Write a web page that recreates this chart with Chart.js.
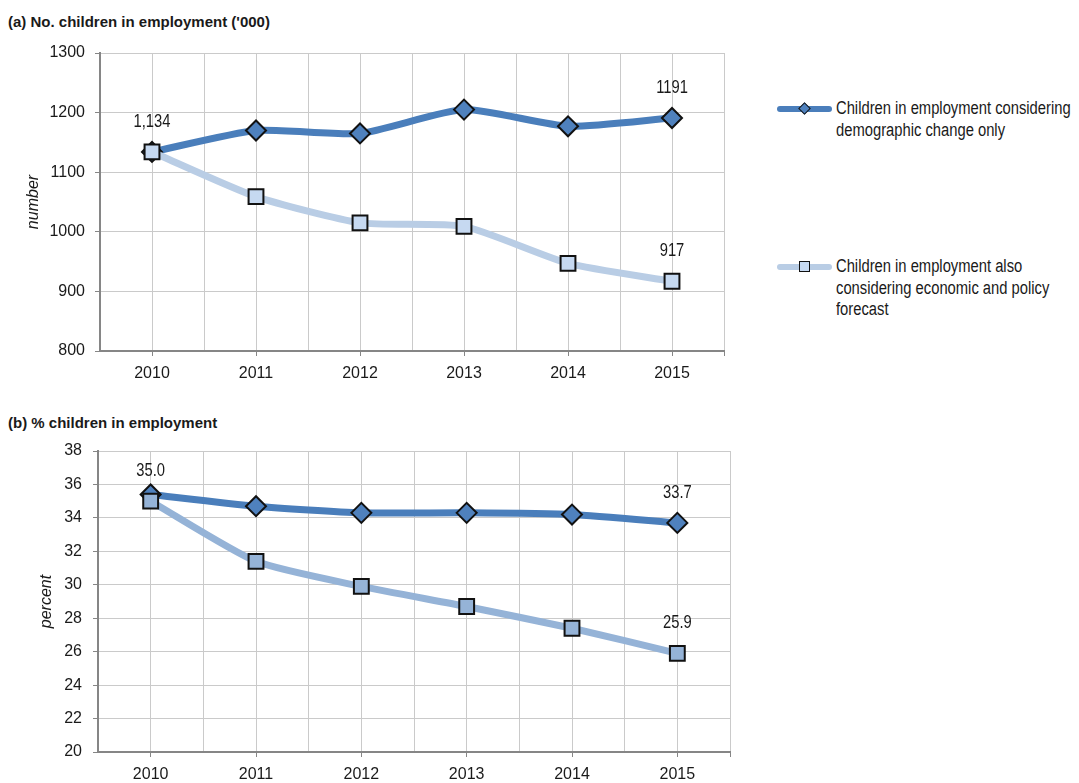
<!DOCTYPE html>
<html>
<head>
<meta charset="utf-8">
<script src="https://cdn.jsdelivr.net/npm/chart.js@4.4.1/dist/chart.umd.min.js"></script>
<style>
  body { margin: 0; background: #fff; width: 1079px; height: 783px; position: relative; overflow: hidden;
         font-family: "Liberation Sans", Arial, sans-serif; color: #1a1a1a; }
  .ttl { position: absolute; left: 8px; font-weight: bold; font-size: 15px; white-space: nowrap; }
  .box { position: absolute; left: 0; }
  .leg { position: absolute; left: 777px; font-size: 18px; line-height: 21.5px; }
  .leg .sw { position: absolute; left: 0; top: 8px; width: 55px; height: 6px; border-radius: 3px; }
  .leg .mk { position: absolute; box-sizing: border-box; border: 1.5px solid #111; }
  /* no narrow face installed: squeeze the regular one */
  .leg .txt { position: absolute; left: 59px; top: 0; white-space: nowrap; transform: scaleX(0.82); transform-origin: 0 0; }
</style>
</head>
<body>
<div class="ttl" style="top:13px">(a) No. children in employment ('000)</div>
<div class="box" style="top:40px"><canvas id="countChart" width="740" height="346"></canvas></div>

<div class="leg" style="top:98px">
  <div class="sw" style="background:#4A7EBB"></div>
  <div class="mk" style="left:23px;top:6px;width:9px;height:9px;background:#4F81BD;transform:rotate(45deg)"></div>
  <div class="txt">Children in employment considering<br>demographic change only</div>
</div>
<div class="leg" style="top:256px">
  <div class="sw" style="background:#B9CDE5"></div>
  <div class="mk" style="left:22px;top:5px;width:11px;height:11px;background:#C6D9F1"></div>
  <div class="txt">Children in employment also<br>considering economic and policy<br>forecast</div>
</div>

<div class="ttl" style="top:414px">(b) % children in employment</div>
<div class="box" style="top:435px"><canvas id="pctChart" width="746" height="348"></canvas></div>

<script>
const years = [2010, 2011, 2012, 2013, 2014, 2015];

// (a) number of children in employment, thousands
const countDemographic = [1134, 1170, 1165, 1205, 1177, 1191];
const countForecast = [1134, 1059, 1015, 1009, 947, 917];

// (b) share of children in employment, percent
const pctDemographic = [35.4, 34.7, 34.3, 34.3, 34.2, 33.7];
const pctForecast = [35.0, 31.4, 29.9, 28.7, 27.4, 25.9];

// value labels: [dataset index, point index]
const countLabelPoints = [[1, 0], [0, 5], [1, 5]];
const pctLabelPoints = [[1, 0], [0, 5], [1, 5]];

const FONT = '"Liberation Sans", Arial, sans-serif';
Chart.defaults.font.family = FONT;
Chart.defaults.font.size = 16;
Chart.defaults.color = '#1a1a1a';

const GRID = '#CACACA';
const AXIS = '#868686';

const pointValues = {
  id: 'pointValues',
  afterDatasetsDraw(chart, args, opts) {
    const ctx = chart.ctx;
    opts.points.forEach(([ds, i]) => {
      const pt = chart.getDatasetMeta(ds).data[i];
      const v = chart.data.datasets[ds].data[i].y;
      ctx.save();
      ctx.translate(pt.x, pt.y - 30);
      ctx.scale(0.82, 1);
      ctx.font = '18px ' + FONT;
      ctx.fillStyle = '#1a1a1a';
      ctx.textAlign = 'center';
      ctx.textBaseline = 'middle';
      ctx.fillText(opts.format(v, i), 0, 0);
      ctx.restore();
    });
  }
};

function series(vals) {
  return years.map((y, i) => ({ x: y, y: vals[i] }));
}

function makeChart(id, cfg) {
  return new Chart(document.getElementById(id), {
    type: 'line',
    data: {
      datasets: [
        { label: 'Children in employment considering demographic change only', data: series(cfg.demo),
          borderColor: '#4A7EBB', borderWidth: 7, tension: 0.2, order: 1,
          pointStyle: 'rectRot', pointRadius: 10, pointHoverRadius: 10,
          pointBackgroundColor: '#4F81BD', pointBorderColor: '#111', pointBorderWidth: 2 },
        { label: 'Children in employment also considering economic and policy forecast', data: series(cfg.fore),
          borderColor: cfg.foreLine, borderWidth: 7, tension: 0.2, order: 0,
          pointStyle: 'rect', pointRadius: 10.5, pointHoverRadius: 10.5,
          pointBackgroundColor: cfg.foreFill, pointBorderColor: '#111', pointBorderWidth: 2 }
      ]
    },
    options: {
      responsive: false, animation: false,
      layout: { padding: { top: cfg.padTop, right: 16, left: 0, bottom: 0 } },
      plugins: {
        legend: { display: false }, tooltip: { enabled: false },
        pointValues: { points: cfg.labelPoints, format: cfg.format }
      },
      scales: {
        x: {
          type: 'linear', min: 2009.5, max: 2015.5,
          afterFit: s => { s.height = cfg.xHeight; s.paddingLeft = 0; s.paddingRight = 0; },
          ticks: { stepSize: 0.5, autoSkip: false, maxRotation: 0, padding: 8,
                   callback: v => Number.isInteger(v) ? String(v) : '' },
          grid: { color: GRID, lineWidth: 1, borderDash: [3, 2], tickLength: 5, tickBorderDash: [],
                  tickColor: c => (Number.isInteger(c.tick.value) || c.tick.value === 2015.5) ? AXIS : 'rgba(0,0,0,0)' },
          border: { display: true, color: AXIS, width: 2 }
        },
        y: {
          min: cfg.yMin, max: cfg.yMax,
          afterFit: s => { s.width = cfg.yWidth; s.paddingTop = 0; s.paddingBottom = 0; },
          ticks: { stepSize: cfg.yStep, padding: cfg.yPad, callback: v => String(v) },
          grid: { color: GRID, lineWidth: 1, borderDash: [3, 2], tickLength: 5, tickBorderDash: [], tickColor: AXIS },
          border: { display: true, color: AXIS, width: 2 },
          title: { display: true, text: cfg.yTitle, font: { size: 16, style: 'italic' }, padding: { top: cfg.titlePad } }
        }
      }
    },
    plugins: [pointValues]
  });
}

makeChart('countChart', {
  demo: countDemographic, fore: countForecast,
  foreLine: '#B9CDE5', foreFill: '#C6D9F1',
  yMin: 800, yMax: 1300, yStep: 100, yWidth: 100, yPad: 10,
  padTop: 13, xHeight: 35, yTitle: 'number', titlePad: 24,
  labelPoints: countLabelPoints,
  format: (v, i) => i === 0 ? v.toLocaleString('en-US') : String(v)
});

makeChart('pctChart', {
  demo: pctDemographic, fore: pctForecast,
  foreLine: '#95B3D7', foreFill: '#95B3D7',
  yMin: 20, yMax: 38, yStep: 2, yWidth: 98, yPad: 11,
  padTop: 16, xHeight: 31, yTitle: 'percent', titlePad: 37,
  labelPoints: pctLabelPoints,
  format: v => v.toFixed(1)
});
</script>
</body>
</html>
